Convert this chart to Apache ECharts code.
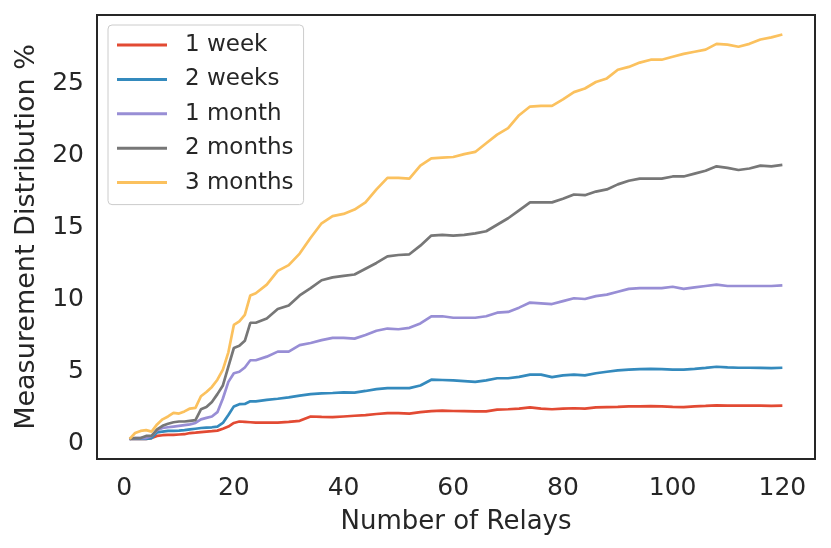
<!DOCTYPE html>
<html>
<head>
<meta charset="utf-8">
<script src="https://cdn.jsdelivr.net/npm/echarts@6/dist/echarts.min.js"></script>
<style>
  html, body { margin: 0; padding: 0; background: #fff; }
  #chart { width: 831px; height: 548px; }
</style>
</head>
<body>
<div id="chart"></div>
<script>
// x 轴: 中继数量
var relays = [1, 2, 3, 4, 5, 6, 7, 8, 9, 10, 11, 12, 13, 14, 15, 16, 17, 18, 19, 20, 21, 22, 23, 24,
  26, 28, 30, 32, 34, 36, 38, 40, 42, 44, 46, 48, 50, 52, 54, 56, 58, 60, 62, 64, 66, 68, 70,
  72, 74, 76, 78, 80, 82, 84, 86, 88, 90, 92, 94, 96, 98, 100, 102, 104, 106, 108, 110, 112,
  114, 116, 118, 120];

var week1 = [0, 0, 0, 0, 0.05, 0.2, 0.25, 0.27, 0.28, 0.3, 0.32, 0.4, 0.43, 0.47, 0.5, 0.53, 0.57, 0.7, 0.85, 1.1, 1.2, 1.18, 1.15, 1.12,
  1.12, 1.12, 1.18, 1.25, 1.55, 1.52, 1.5, 1.55, 1.6, 1.65, 1.72, 1.78, 1.78, 1.75, 1.85, 1.92, 1.95, 1.93, 1.92, 1.9, 1.9, 2.02, 2.05,
  2.1, 2.18, 2.1, 2.05, 2.1, 2.12, 2.1, 2.18, 2.2, 2.22, 2.25, 2.25, 2.27, 2.25, 2.22, 2.2, 2.25, 2.28, 2.32, 2.3, 2.3,
  2.3, 2.3, 2.28, 2.3];

var weeks2 = [0, 0, 0, 0, 0.05, 0.45, 0.5, 0.55, 0.55, 0.57, 0.6, 0.65, 0.7, 0.75, 0.78, 0.8, 0.85, 1.1, 1.65, 2.25, 2.4, 2.42, 2.6, 2.6,
  2.7, 2.78, 2.88, 3.0, 3.1, 3.15, 3.18, 3.22, 3.2, 3.32, 3.45, 3.52, 3.52, 3.52, 3.7, 4.1, 4.08, 4.05, 4.0, 3.95, 4.05, 4.2, 4.2,
  4.3, 4.45, 4.45, 4.28, 4.4, 4.45, 4.4, 4.55, 4.65, 4.75, 4.8, 4.83, 4.85, 4.83, 4.8, 4.8, 4.85, 4.92, 5.0, 4.95, 4.93,
  4.93, 4.92, 4.9, 4.93];

var month1 = [0, 0.05, 0.05, 0.05, 0.2, 0.6, 0.75, 0.8, 0.85, 0.9, 0.95, 1.0, 1.1, 1.35, 1.45, 1.55, 1.85, 2.8, 3.95, 4.55, 4.65, 4.95, 5.45, 5.45,
  5.7, 6.05, 6.05, 6.5, 6.65, 6.85, 7.0, 7.0, 6.95, 7.2, 7.5, 7.65, 7.6, 7.7, 8.0, 8.5, 8.5, 8.4, 8.4, 8.4, 8.5, 8.75, 8.8,
  9.1, 9.45, 9.4, 9.35, 9.55, 9.75, 9.7, 9.9, 10.0, 10.2, 10.4, 10.45, 10.45, 10.45, 10.55, 10.4, 10.5, 10.6, 10.7, 10.6, 10.6,
  10.6, 10.6, 10.6, 10.65];

var months2 = [0, 0.05, 0.05, 0.2, 0.2, 0.65, 0.9, 1.05, 1.15, 1.2, 1.2, 1.25, 1.3, 2.05, 2.2, 2.55, 3.1, 3.7, 5.0, 6.3, 6.45, 6.8, 8.05, 8.05,
  8.35, 9.0, 9.25, 9.95, 10.45, 11.0, 11.2, 11.3, 11.4, 11.8, 12.2, 12.65, 12.75, 12.8, 13.4, 14.1, 14.15, 14.1, 14.15, 14.25, 14.4, 14.85, 15.3,
  15.85, 16.4, 16.4, 16.4, 16.65, 16.95, 16.9, 17.15, 17.3, 17.65, 17.9, 18.05, 18.05, 18.05, 18.2, 18.2, 18.4, 18.6, 18.9, 18.8, 18.65,
  18.75, 18.95, 18.9, 19.0];

var months3 = [0, 0.4, 0.55, 0.6, 0.5, 1.0, 1.35, 1.55, 1.8, 1.75, 1.9, 2.1, 2.15, 2.95, 3.25, 3.6, 4.1, 4.8, 6.0, 7.9, 8.15, 8.6, 9.95, 10.1,
  10.7, 11.65, 12.05, 12.85, 13.95, 14.95, 15.45, 15.6, 15.9, 16.4, 17.3, 18.1, 18.1, 18.05, 18.95, 19.45, 19.5, 19.55, 19.75, 19.9, 20.5, 21.1, 21.55,
  22.45, 23.05, 23.1, 23.1, 23.55, 24.05, 24.3, 24.75, 25.0, 25.6, 25.8, 26.1, 26.3, 26.3, 26.5, 26.7, 26.85, 27.0, 27.4, 27.35, 27.2,
  27.4, 27.7, 27.85, 28.05];

var seriesNames = ['1 week', '2 weeks', '1 month', '2 months', '3 months'];
var seriesColors = ['#E24A33', '#348ABD', '#988ED5', '#777777', '#FBC15E'];
var xTicks = [0, 20, 40, 60, 80, 100, 120];
var yTicks = [0, 5, 10, 15, 20, 25];

var textColor = '#262626';
var fontFamily = 'DejaVu Sans';

function pairs(values) {
  return relays.map(function (x, i) { return [x, values[i]]; });
}

var chart = echarts.init(document.getElementById('chart'));

var seriesData = [week1, weeks2, month1, months2, months3];

var option = {
  backgroundColor: '#ffffff',
  animation: false,
  textStyle: { fontFamily: fontFamily, color: textColor },
  grid: {
    left: 97, right: 16, top: 15, bottom: 89,
    show: true,
    borderColor: textColor,
    borderWidth: 2,
    backgroundColor: '#ffffff'
  },
  legend: {
    orient: 'vertical',
    left: 108,
    top: 25,
    data: seriesNames,
    icon: 'rect',
    itemWidth: 50,
    itemHeight: 3,
    itemGap: 10.4,
    padding: [8, 10, 10, 9],
    backgroundColor: 'rgba(255,255,255,0.8)',
    borderColor: '#cccccc',
    borderWidth: 1,
    borderRadius: 4,
    textStyle: {
      fontFamily: fontFamily,
      fontSize: 23,
      lineHeight: 24,
      color: textColor,
      padding: [0, 0, 0, 13]
    }
  },
  xAxis: {
    type: 'value',
    min: -4.95,
    max: 125.95,
    name: 'Number of Relays',
    nameLocation: 'middle',
    nameGap: 50,
    nameTextStyle: { fontFamily: fontFamily, fontSize: 26, color: textColor },
    axisLine: { show: false },
    axisTick: { show: false },
    splitLine: { show: false },
    axisLabel: {
      customValues: xTicks,
      margin: 17,
      fontFamily: fontFamily,
      fontSize: 25,
      color: textColor
    }
  },
  yAxis: {
    type: 'value',
    min: -1.4,
    max: 29.4,
    name: 'Measurement Distribution %',
    nameLocation: 'middle',
    nameGap: 57,
    nameTextStyle: { fontFamily: fontFamily, fontSize: 27, color: textColor },
    axisLine: { show: false },
    axisTick: { show: false },
    splitLine: { show: false },
    axisLabel: {
      customValues: yTicks,
      margin: 13,
      verticalAlign: 'top',
      lineHeight: 10,
      fontFamily: fontFamily,
      fontSize: 25,
      color: textColor
    }
  },
  series: seriesNames.map(function (name, i) {
    return {
      name: name,
      type: 'line',
      data: pairs(seriesData[i]),
      showSymbol: false,
      symbol: 'none',
      color: seriesColors[i],
      lineStyle: { width: 2.7, color: seriesColors[i] }
    };
  })
};

chart.setOption(option);
</script>
</body>
</html>
